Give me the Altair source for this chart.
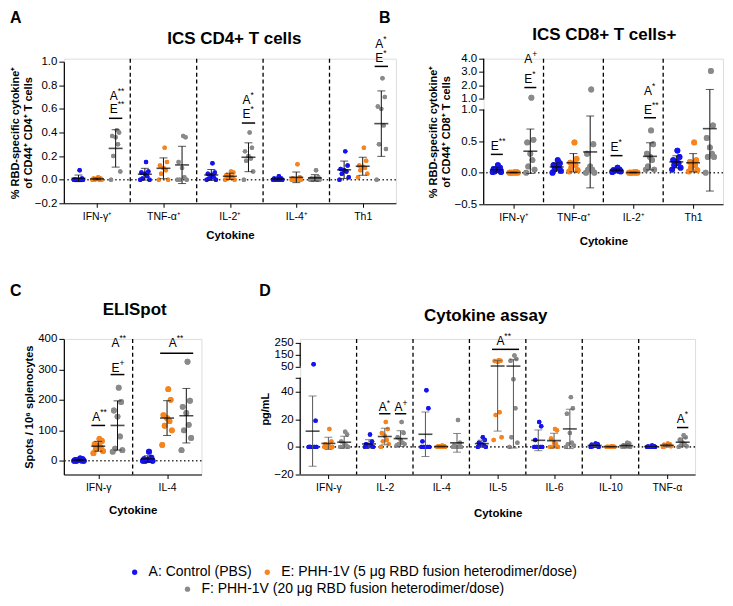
import json
import altair as alt
import pandas as pd

FONT = "Liberation Sans"
GROUP_LABELS = ["A: Control (PBS)",
                "E: PHH-1V (5 μg RBD fusion heterodimer/dose)",
                "F: PHH-1V (20 μg RBD fusion heterodimer/dose)"]
COLORS = ["#1414f0", "#f7851f", "#8a8a8a"]

# ---------------- Panel A : ICS CD4+ T cells ----------------
A_CATS = ["IFN-γ⁺", "TNF-α⁺", "IL-2⁺", "IL-4⁺", "Th1"]
A_CTRL = [
    [0.08, 0.01, 0.0, 0.0, 0.0, 0.0, 0.0, 0.0],
    [0.15, 0.07, 0.06, 0.05, 0.03, 0.01, 0.0, 0.0],
    [0.14, 0.06, 0.05, 0.04, 0.02, 0.01, 0.0, 0.0],
    [0.03, 0.01, 0.01, 0.0, 0.0, 0.0, 0.0, 0.0],
    [0.24, 0.12, 0.09, 0.08, 0.07, 0.05, 0.02, 0.0],
]
A_5UG = [
    [0.02, 0.01, 0.01, 0.01, 0.0, 0.0, 0.0, 0.0],
    [0.27, 0.15, 0.12, 0.10, 0.08, 0.05, 0.0, 0.0],
    [0.07, 0.06, 0.04, 0.03, 0.02, 0.01, 0.0, 0.0],
    [0.13, 0.02, 0.01, 0.0, 0.0, 0.0, 0.0, 0.0],
    [0.27, 0.16, 0.12, 0.11, 0.10, 0.08, 0.05, 0.02],
]
A_20UG = [
    [0.42, 0.40, 0.37, 0.36, 0.30, 0.20, 0.07, 0.0],
    [0.37, 0.36, 0.15, 0.10, 0.02, 0.0, 0.0, 0.0],
    [0.40, 0.27, 0.24, 0.20, 0.18, 0.16, 0.07, 0.0],
    [0.08, 0.02, 0.01, 0.01, 0.0, 0.0, 0.0, 0.0],
    [0.86, 0.70, 0.62, 0.60, 0.46, 0.30, 0.26, 0.0],
]
A_BAR_CAT = [0, 2, 4]
A_BAR_G0 = [2, 2, 2]
A_BAR_G1 = [2, 2, 2]
A_BAR_Y = [0.52, 0.48, 0.96]
A_TXT_CAT = [0, 0, 2, 2, 4, 4]
A_TXT_G = [2, 2, 2, 2, 2, 2]
A_TXT_Y = [0.60, 0.71, 0.555, 0.675, 1.03, 1.15]
A_TXT_L = ["E", "A", "E", "A", "E", "A"]
A_TXT_S = ["**", "**", "*", "*", "*", "*"]

# ---------------- Panel B : ICS CD8+ T cells ----------------
B_CATS = ["IFN-γ⁺", "TNF-α⁺", "IL-2⁺", "Th1"]
B_CTRL = [
    [0.12, 0.08, 0.06, 0.05, 0.04, 0.02, 0.01, 0.01],
    [0.20, 0.15, 0.12, 0.10, 0.08, 0.05, 0.03, 0.0],
    [0.08, 0.05, 0.04, 0.04, 0.03, 0.03, 0.02, 0.01],
    [0.35, 0.25, 0.20, 0.17, 0.15, 0.12, 0.08, 0.05],
]
B_5UG = [
    [0.01, 0.01, 0.0, 0.0, 0.0, 0.0, 0.0, 0.0],
    [0.48, 0.22, 0.16, 0.14, 0.12, 0.08, 0.04, 0.02],
    [0.01, 0.01, 0.0, 0.0, 0.0, 0.0, 0.0, 0.0],
    [0.48, 0.20, 0.17, 0.15, 0.12, 0.08, 0.04, 0.02],
]
B_20UG = [
    [1.07, 0.52, 0.48, 0.30, 0.20, 0.10, 0.05, 0.0],
    [1.68, 0.45, 0.30, 0.10, 0.05, 0.05, 0.0, 0.0],
    [0.67, 0.45, 0.30, 0.25, 0.20, 0.10, 0.05, 0.05],
    [3.08, 0.75, 0.55, 0.40, 0.30, 0.25, 0.25, 0.0],
]
B_BAR_CAT = [0, 0, 2, 2]
B_BAR_G0 = [0, 2, 0, 2]
B_BAR_G1 = [0, 2, 0, 2]
B_BAR_Y = [0.29, 1.83, 0.27, 0.87]
B_TXT_CAT = [0, 0, 0, 2, 2, 2]
B_TXT_G = [0, 2, 2, 0, 2, 2]
B_TXT_Y = [0.43, 2.5, 4.0, 0.41, 0.99, 1.6]
B_TXT_L = ["E", "E", "A", "E", "E", "A"]
B_TXT_S = ["**", "*", "+", "*", "**", "*"]

# ---------------- Panel C : ELISpot ----------------
C_CATS = ["IFN-γ", "IL-4"]
C_CTRL = [[8, 5, 3, 2, 1, 0, 0, 0], [30, 10, 5, 3, 2, 0, 0, 0]]
C_5UG = [[72, 65, 55, 50, 45, 38, 32, 25], [235, 200, 150, 140, 130, 115, 100, 52]]
C_20UG = [[240, 193, 165, 145, 80, 40, 35, 30], [325, 197, 177, 157, 118, 100, 75, 35]]
C_BAR_CAT = [0, 0, 1]
C_BAR_G0 = [1, 2, 1]
C_BAR_G1 = [1, 2, 2]
C_BAR_Y = [116, 283, 353]
C_TXT_CAT = [0, 0, 0, 1]
C_TXT_G = [1, 2, 2, 1.4]
C_TXT_Y = [145, 304, 385, 385]
C_TXT_L = ["A", "E", "A", "A"]
C_TXT_S = ["**", "+", "**", "**"]

# ---------------- Panel D : Cytokine assay ----------------
D_CATS = ["IFN-γ", "IL-2", "IL-4", "IL-5", "IL-6", "IL-10", "TNF-α"]
D_CTRL = [
    [72, 19, 0, 0, 0, 0, 0, 0],
    [9, 4, 2, 1, 1, 0, 0, 0],
    [41, 28, 4, 0, 0, 0, 0, 0],
    [7, 5, 3, 2, 1, 1, 0, 0],
    [18, 15, 5, 0, 0, 0, 0, 0],
    [2.5, 2, 1.5, 1, 1, 0.5, 0, 0],
    [1, 0.5, 0.3, 0, 0, 0, 0, 0],
]
D_5UG = [
    [13, 4, 2, 1, 0, 0, 0, 0],
    [18, 13, 10, 8, 5, 4, 2, 0],
    [1, 0.5, 0.5, 0, 0, 0, 0, 0],
    [105, 100, 98, 90, 25, 23, 7, 5],
    [13, 12, 6, 3, 2, 0, 0, 0],
    [0.5, 0.3, 0.2, 0, 0, 0, 0, 0],
    [2.5, 2, 1.5, 1, 1, 0.5, 0.5, 0],
]
D_20UG = [
    [11, 9, 4, 2, 1, 0, 0, 0],
    [18, 10, 7, 5, 3, 2, 2, 1],
    [19.5, 3, 1, 0, 0, 0, 0, 0],
    [145, 115, 100, 49, 28, 7, 3, 0],
    [36, 28, 24, 10, 3, 2, 1, 0],
    [3, 2.5, 1, 0.5, 0.5, 0, 0, 0],
    [8.5, 7, 5, 3, 2, 1, 0.5, 0],
]
D_BAR_CAT = [1, 1, 3, 6]
D_BAR_G0 = [1, 2, 1, 2]
D_BAR_G1 = [1, 2, 2, 2]
D_BAR_Y = [24, 24, 196, 14]
D_TXT_CAT = [1, 1, 3, 6]
D_TXT_G = [1, 2, 1.3, 2]
D_TXT_Y = [28.5, 28.5, 262, 20]
D_TXT_L = ["A", "A", "A", "A"]
D_TXT_S = ["*", "+", "**", "*"]

GOFF = 0.28      # group offset within a category (category units)
JIT = [-2, 2, -1, 1, 0, -1.5, 1.5, 0.5]
JSTEP = 0.035
HW = 0.1         # half width of significance bars

LEG_COMMON = dict(orient="none", direction="horizontal", title=None,
                  labelFont=FONT, labelFontSize=14, labelColor="black",
                  symbolType="circle", symbolSize=28, symbolStrokeWidth=0,
                  columnPadding=8, labelLimit=400, labelOffset=7)
LEGEND_AE = alt.Legend(legendX=64, legendY=508, **LEG_COMMON)
LEGEND_F = alt.Legend(legendX=117, legendY=525, **LEG_COMMON)


def gpos(ci, g):
    return ci + 0.5 + (g - 1) * GOFF


def build_df(cats, series):
    rows = []
    for ci, cat in enumerate(cats):
        for gi, ser in enumerate(series):
            vals = sorted(ser[ci])
            c = gpos(ci, gi)
            for k, v in enumerate(vals):
                rows.append({"cat": cat, "grp": GROUP_LABELS[gi], "gi": gi, "center": c,
                             "pos": c + JIT[k % len(JIT)] * JSTEP, "val": v})
    return pd.DataFrame(rows)


def panel(cats, series, bars, texts, yscale, yaxis, width, height, title,
          title_xy, letter, letter_xy, psize, xtitle_pad,
          axis_segments=None, err_color="#111111"):
    n = len(cats)
    df = build_df(cats, series)
    xs = alt.Scale(domain=[0, n], nice=False, zero=False)
    label_expr = json.dumps(cats) + "[floor(datum.value)]"
    xaxis = alt.Axis(values=[i + 0.5 for i in range(n)], labelExpr=label_expr,
                     title="Cytokine", grid=False, domainColor="black", tickColor="black",
                     tickSize=4, labelFontSize=10.5, labelFont=FONT, labelColor="black",
                     titleFont=FONT, titleFontSize=11.5, titleFontWeight="bold",
                     titleColor="black", titlePadding=xtitle_pad, labelPadding=4,
                     labelAngle=0, domainWidth=1.2, labelOverlap=False)

    def X(f):
        return alt.X(f, scale=xs, axis=xaxis)

    def Y(f):
        return alt.Y(f, scale=yscale, axis=yaxis)

    base = alt.Chart(df)

    pts_ae = base.transform_filter("datum.gi < 2").mark_circle(size=psize, opacity=1).encode(
        x=X("pos:Q"), y=Y("val:Q"),
        color=alt.Color("grp:N", scale=alt.Scale(domain=GROUP_LABELS[:2], range=COLORS[:2]),
                        legend=LEGEND_AE),
    )
    pts_f = base.transform_filter("datum.gi == 2").mark_circle(size=psize, opacity=1).encode(
        x=X("pos:Q"), y=Y("val:Q"),
        fill=alt.Fill("grp:N", scale=alt.Scale(domain=GROUP_LABELS[2:], range=COLORS[2:]),
                      legend=LEGEND_F),
    )

    sep = alt.Chart(pd.DataFrame({"b": list(range(1, n))})).mark_rule(
        strokeDash=[4, 3], color="black", strokeWidth=1.3
    ).encode(x=X("b:Q"))

    zero = alt.Chart(pd.DataFrame({"z": [0]})).mark_rule(
        strokeDash=[1.5, 2.5], strokeWidth=1.6, color="#333333"
    ).encode(y=Y("z:Q"))

    stats = base.transform_aggregate(
        m="mean(val)", s="stdev(val)", groupby=["cat", "grp", "center"]
    ).transform_calculate(lo="datum.m - datum.s", hi="datum.m + datum.s")
    err = stats.mark_rule(color=err_color, strokeWidth=1).encode(
        x=X("center:Q"), y=Y("lo:Q"), y2="hi:Q")
    cap_hi = stats.mark_tick(orient="horizontal", size=8, thickness=1, color=err_color).encode(
        x=X("center:Q"), y=Y("hi:Q"))
    cap_lo = stats.mark_tick(orient="horizontal", size=8, thickness=1, color=err_color).encode(
        x=X("center:Q"), y=Y("lo:Q"))
    mean = stats.mark_tick(orient="horizontal", size=14, thickness=1.6, color="black").encode(
        x=X("center:Q"), y=Y("m:Q"))

    bcat, bg0, bg1, by = bars
    bdf = pd.DataFrame({"x0": [gpos(c, g) - HW for c, g in zip(bcat, bg0)],
                        "x1": [gpos(c, g) + HW for c, g in zip(bcat, bg1)],
                        "y": by})
    bar = alt.Chart(bdf).mark_rule(color="black", strokeWidth=1.5).encode(
        x=X("x0:Q"), x2="x1:Q", y=Y("y:Q"))

    tcat, tg, ty, tl, tsup = texts
    tdf = pd.DataFrame({"x": [gpos(c, g) for c, g in zip(tcat, tg)], "y": ty,
                        "L": tl, "S": tsup})
    tbase = alt.Chart(tdf)
    tlet = tbase.mark_text(align="center", baseline="middle", dx=-2, fontSize=12,
                           font=FONT, color="black").encode(x=X("x:Q"), y=Y("y:Q"), text="L:N")
    tsp = tbase.mark_text(align="left", baseline="middle", dx=2, dy=-5, fontSize=8.5,
                          font=FONT, color="black").encode(x=X("x:Q"), y=Y("y:Q"), text="S:N")

    let = alt.Chart(pd.DataFrame({"t": [letter]})).mark_text(
        align="left", baseline="middle", fontSize=16, fontWeight="bold", font=FONT,
        color="black").encode(text="t:N", x=alt.value(letter_xy[0]), y=alt.value(letter_xy[1]))
    ttl = alt.Chart(pd.DataFrame({"t": [title]})).mark_text(
        align="center", baseline="middle", fontSize=17, fontWeight="bold", font=FONT,
        color="black").encode(text="t:N", x=alt.value(title_xy[0]), y=alt.value(title_xy[1]))

    layers = [pts_ae, pts_f, sep, zero]
    if axis_segments is not None:
        seg = alt.Chart(pd.DataFrame({"y0": axis_segments[0], "y1": axis_segments[1]})).mark_rule(
            color="black", strokeWidth=1.2).encode(x=alt.value(0), y=Y("y0:Q"), y2="y1:Q")
        layers.append(seg)
    layers += [pts_ae, pts_f, err, cap_hi, cap_lo, mean, bar, tlet, tsp, let, ttl]

    return alt.layer(*layers).properties(width=width, height=height)


def yaxis_def(values, fmt, title, domain=True, label_expr=None, title_pad=3):
    kw = dict(values=values, format=fmt, title=title, grid=False, domain=domain,
              domainColor="black", tickColor="black", tickSize=5, labelFont=FONT,
              labelFontSize=11.5, labelColor="black", titleFont=FONT, titleFontSize=11,
              titleFontWeight="bold", titleColor="black", titlePadding=title_pad,
              labelPadding=2, domainWidth=1.2, labelOverlap=False)
    if label_expr:
        kw["labelExpr"] = label_expr
    return alt.Axis(**kw)


# Panel A
ya = alt.Scale(domain=[-0.2, 1.0], range=[145, 3], nice=False, zero=False)
chA = panel(A_CATS, [A_CTRL, A_5UG, A_20UG],
            (A_BAR_CAT, A_BAR_G0, A_BAR_G1, A_BAR_Y),
            (A_TXT_CAT, A_TXT_G, A_TXT_Y, A_TXT_L, A_TXT_S),
            ya, yaxis_def([-0.2, 0, 0.2, 0.4, 0.6, 0.8, 1.0], ".1f",
                          ["% RBD-specific cytokine⁺", "of CD44⁺ CD4⁺ T cells"], title_pad=1),
            333, 145, "ICS CD4+ T cells", (171, -20), "A", (-54, -41), 20, 8)

# Panel B (broken axis)
yb = alt.Scale(domain=[-0.5, 1.0, 1.0001, 4.0], range=[146, 51, 40, 0], nice=False, zero=False)
chB = panel(B_CATS, [B_CTRL, B_5UG, B_20UG],
            (B_BAR_CAT, B_BAR_G0, B_BAR_G1, B_BAR_Y),
            (B_TXT_CAT, B_TXT_G, B_TXT_Y, B_TXT_L, B_TXT_S),
            yb, yaxis_def([-0.5, 0, 0.5, 1.0, 1.0001, 2.0, 3.0, 4.0], ".1f",
                          ["% RBD-specific cytokine⁺", "of CD44⁺ CD8⁺ T cells"], domain=False),
            240, 146, "ICS CD8+ T cells+", (121, -24), "B", (-105, -41), 34, 13,
            axis_segments=([-0.5, 1.0001], [1.0, 4.0]))

# Panel C
yc = alt.Scale(domain=[-45, 400], nice=False, zero=False)
chC = panel(C_CATS, [C_CTRL, C_5UG, C_20UG],
            (C_BAR_CAT, C_BAR_G0, C_BAR_G1, C_BAR_Y),
            (C_TXT_CAT, C_TXT_G, C_TXT_Y, C_TXT_L, C_TXT_S),
            yc, yaxis_def([0, 100, 200, 300, 400], "d", "Spots / 10⁶ splenocytes"),
            138, 136, "ELISpot", (71, -29), "C", (-54, -48), 34, 12)

# Panel D (broken axis)
yd = alt.Scale(domain=[-20, 50, 50.001, 250], range=[136, 39, 28, 4], nice=False, zero=False)
chD = panel(D_CATS, [D_CTRL, D_5UG, D_20UG],
            (D_BAR_CAT, D_BAR_G0, D_BAR_G1, D_BAR_Y),
            (D_TXT_CAT, D_TXT_G, D_TXT_Y, D_TXT_L, D_TXT_S),
            yd, yaxis_def([-20, 0, 20, 40, 50, 50.001, 150, 250], "d", "pg/mL", domain=False,
                          label_expr="datum.value == 50 ? '' : format(datum.value, 'd')"),
            396, 136, "Cytokine assay", (186, -23), "D", (-41, -48), 20, 15,
            axis_segments=([-20, 50.001], [50, 250]), err_color="#555555")

row1 = alt.hconcat(chA, chB, spacing=-20)
row2 = alt.hconcat(chC, chD, spacing=55)
chart = alt.vconcat(row1, row2, spacing=34).properties(padding=0).configure_view(
    stroke="transparent").configure(font=FONT)

chart.save("out.html", embed_options={"renderer": "svg", "actions": False})
